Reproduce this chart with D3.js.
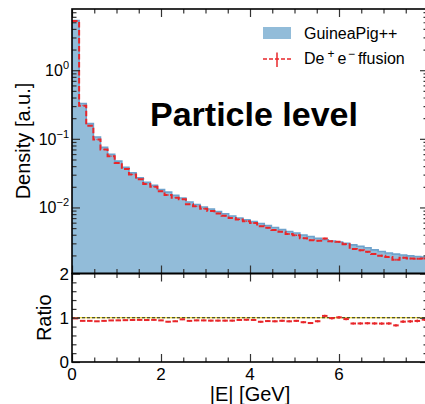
<!DOCTYPE html>
<html>
<head>
<meta charset="utf-8">
<script src="https://cdn.jsdelivr.net/npm/d3@7"></script>
<style>
  html, body { margin: 0; padding: 0; background: #fff; }
  svg { display: block; font-family: "Liberation Sans", Arial, Helvetica, sans-serif; }
</style>
</head>
<body>
<svg id="chart" width="425" height="404"></svg>
<script>
// Energy binning: 50 bins of 0.16 GeV between 0 and 8 GeV
const binEdgesRange = [0, 8];
const binCount = 50;

// GuineaPig++ density per bin
const guineaPig = [
  5.28, 0.327, 0.1667, 0.1062, 0.0751, 0.0594, 0.0474, 0.0384, 0.0319, 0.0270,
  0.0232, 0.0210, 0.0183, 0.0167, 0.0150, 0.0137, 0.0120, 0.01106, 0.01017, 0.00951,
  0.00875, 0.00809, 0.00751, 0.00703, 0.00661, 0.00625, 0.00584, 0.00546, 0.00511, 0.00477,
  0.00447, 0.00425, 0.00397, 0.00377, 0.00356, 0.00338, 0.00324, 0.00313, 0.00301, 0.00285,
  0.00272, 0.00258, 0.00241, 0.00228, 0.00217, 0.00209, 0.00203, 0.00197, 0.00193, 0.00189
];

// De+e-ffusion density per bin
const deeffusion = [
  5.20, 0.304, 0.155, 0.0977, 0.0698, 0.0558, 0.0446, 0.0363, 0.0303, 0.0257,
  0.0220, 0.0200, 0.0172, 0.0152, 0.0138, 0.0132, 0.01116, 0.01040, 0.00956, 0.00889,
  0.00818, 0.00756, 0.00702, 0.00668, 0.00631, 0.00594, 0.00531, 0.00505, 0.00470, 0.00444,
  0.00411, 0.00395, 0.00357, 0.00332, 0.00328, 0.00352, 0.00321, 0.00316, 0.00292, 0.00248,
  0.00237, 0.00226, 0.00210, 0.00198, 0.00189, 0.00173, 0.00185, 0.00181, 0.00179, 0.00181
];

// Relative statistical uncertainty of the De+e-ffusion sample per bin
const deeffusionRelErr = [
  0.003, 0.008, 0.010, 0.010, 0.012, 0.012, 0.013, 0.013, 0.014, 0.014,
  0.015, 0.015, 0.016, 0.016, 0.017, 0.017, 0.018, 0.018, 0.019, 0.019,
  0.020, 0.020, 0.021, 0.021, 0.022, 0.022, 0.023, 0.023, 0.024, 0.024,
  0.025, 0.025, 0.026, 0.026, 0.027, 0.027, 0.028, 0.028, 0.029, 0.029,
  0.030, 0.030, 0.031, 0.031, 0.032, 0.032, 0.033, 0.033, 0.034, 0.034
];

// Tick labels
const xTickLabels = [0, 2, 4, 6];
const densityDecades = [-2, -1, 0];
const ratioTickLabels = [0, 1, 2];

const legendLabels = ["GuineaPig++", "De", "+", "e", "\u2212", "ffusion"];
const titleText = "Particle level";

// ---- layout ----
const svg = d3.select("#chart");
const left = 72, right = 428;
const mainTop = 9, mainBottom = 273.5;
const ratioTop = 273.5, ratioBottom = 362;

const blueFill = "#92bcd9";
const blueEdge = "#6ea2cc";
const red = "#e8262a";

const binWidth = (binEdgesRange[1] - binEdgesRange[0]) / binCount;
const bins = d3.range(binCount).map(i => ({
  x0: binEdgesRange[0] + i * binWidth,
  x1: binEdgesRange[0] + (i + 1) * binWidth,
  gp: guineaPig[i],
  de: deeffusion[i],
  err: deeffusionRelErr[i]
}));

const x = d3.scaleLinear().domain(binEdgesRange).range([left, right]);
const y = d3.scaleLog().domain([1.09e-3, 7.8]).range([mainBottom, mainTop]);
const yr = d3.scaleLinear().domain([0, 2]).range([ratioBottom, ratioTop]);

// ---- main panel ----
svg.append("clipPath").attr("id", "mainClip")
  .append("rect").attr("x", left).attr("y", mainTop)
  .attr("width", right - left).attr("height", mainBottom - mainTop);

const main = svg.append("g").attr("clip-path", "url(#mainClip)");

// GuineaPig++ filled histogram
const stepPts = [[x(bins[0].x0), mainBottom]];
bins.forEach(b => { stepPts.push([x(b.x0), y(b.gp)]); stepPts.push([x(b.x1), y(b.gp)]); });
stepPts.push([x(bins[binCount - 1].x1), mainBottom]);
main.append("path")
  .attr("d", d3.line()(stepPts))
  .attr("fill", blueFill)
  .attr("stroke", blueEdge)
  .attr("stroke-width", 1.6)
  .attr("stroke-linejoin", "miter");

// De+e-ffusion dashed step line
const redPts = [];
bins.forEach(b => { redPts.push([x(b.x0), y(b.de)]); redPts.push([x(b.x1), y(b.de)]); });
main.append("path")
  .attr("d", d3.line()(redPts))
  .attr("fill", "none")
  .attr("stroke", red)
  .attr("stroke-width", 2)
  .attr("stroke-dasharray", "5.5,2.5");

// De+e-ffusion error bars
main.append("g").selectAll("line").data(bins).join("line")
  .attr("x1", b => x((b.x0 + b.x1) / 2))
  .attr("x2", b => x((b.x0 + b.x1) / 2))
  .attr("y1", b => y(b.de * (1 - b.err)))
  .attr("y2", b => y(b.de * (1 + b.err)))
  .attr("stroke", red)
  .attr("stroke-width", 1.5);

// ---- ratio panel ----
const ratio = svg.append("g");
ratio.append("line")
  .attr("x1", left).attr("x2", right).attr("y1", yr(1)).attr("y2", yr(1))
  .attr("stroke", "#e6d200").attr("stroke-width", 1.2);
ratio.append("line")
  .attr("x1", left).attr("x2", right).attr("y1", yr(1)).attr("y2", yr(1))
  .attr("stroke", "#222").attr("stroke-width", 1).attr("stroke-dasharray", "3,2");

const ratioBins = bins.map(b => ({ ...b, r: b.de / b.gp }));
ratio.append("g").selectAll("line").data(ratioBins).join("line")
  .attr("x1", b => x(b.x0) + 0.8)
  .attr("x2", b => x(b.x1) - 0.8)
  .attr("y1", b => yr(b.r))
  .attr("y2", b => yr(b.r))
  .attr("stroke", red).attr("stroke-width", 2);
ratio.append("g").selectAll("line").data(ratioBins).join("line")
  .attr("x1", b => x((b.x0 + b.x1) / 2))
  .attr("x2", b => x((b.x0 + b.x1) / 2))
  .attr("y1", b => yr(b.r * (1 - b.err)))
  .attr("y2", b => yr(b.r * (1 + b.err)))
  .attr("stroke", red).attr("stroke-width", 1.5);

// ---- axes ----
const tickColor = "#333";
function styleAxis(g) {
  g.select(".domain").remove();
  g.selectAll(".tick line").attr("stroke", tickColor).attr("stroke-width", 1.2);
  g.selectAll("text").remove();
}

const xMinor = d3.range(0, 8.001, 0.5).filter(v => v % 2 !== 0);
const xMajor = [0, 2, 4, 6, 8];

function xTicks(yPos, orientBottom) {
  const mk = orientBottom ? d3.axisBottom : d3.axisTop;
  svg.append("g").attr("transform", `translate(0,${yPos})`)
    .call(mk(x).tickValues(xMajor).tickSize(-8)).call(styleAxis);
  svg.append("g").attr("transform", `translate(0,${yPos})`)
    .call(mk(x).tickValues(xMinor).tickSize(-4.5)).call(styleAxis);
}
xTicks(mainTop, false);
xTicks(mainBottom, true);
xTicks(ratioTop, false);
xTicks(ratioBottom, true);

// log ticks for the density axis
const yMajor = d3.range(-3, 1).map(d => Math.pow(10, d)).filter(v => v >= 1.09e-3);
const yMinor = [];
d3.range(-3, 1).forEach(d => d3.range(2, 10).forEach(k => {
  const v = k * Math.pow(10, d);
  if (v >= 1.09e-3 && v <= 7.8) yMinor.push(v);
}));
[[left, d3.axisLeft], [right, d3.axisRight]].forEach(([xp, mk]) => {
  svg.append("g").attr("transform", `translate(${xp},0)`)
    .call(mk(y).tickValues(yMajor).tickSize(-8)).call(styleAxis);
  svg.append("g").attr("transform", `translate(${xp},0)`)
    .call(mk(y).tickValues(yMinor).tickSize(-4.5)).call(styleAxis);
});

// ratio axis ticks
const rMinor = d3.range(0, 2.001, 0.2).filter(v => Math.abs(v - Math.round(v)) > 1e-6);
[[left, d3.axisLeft], [right, d3.axisRight]].forEach(([xp, mk]) => {
  svg.append("g").attr("transform", `translate(${xp},0)`)
    .call(mk(yr).tickValues(ratioTickLabels).tickSize(-8)).call(styleAxis);
  svg.append("g").attr("transform", `translate(${xp},0)`)
    .call(mk(yr).tickValues(rMinor).tickSize(-4.5)).call(styleAxis);
});

// frames
[[mainTop, mainBottom], [ratioTop, ratioBottom]].forEach(([t, b]) => {
  svg.append("rect")
    .attr("x", left).attr("y", t)
    .attr("width", right - left).attr("height", b - t)
    .attr("fill", "none").attr("stroke", "#000").attr("stroke-width", 1.6);
});

// ---- tick labels ----
const labelFont = 17;
svg.append("g").selectAll("text").data(xTickLabels).join("text")
  .attr("x", d => x(d)).attr("y", 379.5)
  .attr("text-anchor", "middle")
  .attr("font-size", labelFont)
  .text(d => d);

svg.append("g").selectAll("text").data(ratioTickLabels).join("text")
  .attr("x", 69).attr("y", d => yr(d) + 6)
  .attr("text-anchor", "end")
  .attr("font-size", labelFont)
  .text(d => d);

const decLabels = svg.append("g").selectAll("text").data(densityDecades).join("text")
  .attr("x", 69).attr("y", d => y(Math.pow(10, d)) + 6)
  .attr("text-anchor", "end")
  .attr("font-size", 16);
decLabels.append("tspan").text("10");
decLabels.append("tspan")
  .attr("font-size", 11).attr("dy", -7)
  .text(d => d === 0 ? "0" : "\u2212" + Math.abs(d));

// ---- axis titles ----
svg.append("text")
  .attr("transform", `translate(30,141) rotate(-90)`)
  .attr("text-anchor", "middle").attr("font-size", 20)
  .text("Density [a.u.]");
svg.append("text")
  .attr("transform", `translate(51,${(ratioTop + ratioBottom) / 2}) rotate(-90)`)
  .attr("text-anchor", "middle").attr("font-size", 20)
  .text("Ratio");
svg.append("text")
  .attr("x", (left + right) / 2).attr("y", 401)
  .attr("text-anchor", "middle").attr("font-size", 20)
  .text("|E| [GeV]");

// ---- title ----
svg.append("text")
  .attr("x", 150).attr("y", 126)
  .attr("font-size", 34).attr("font-weight", "bold")
  .text(titleText);

// ---- legend ----
const lg = svg.append("g");
lg.append("rect").attr("x", 263).attr("y", 27).attr("width", 28).attr("height", 12)
  .attr("fill", blueFill);
lg.append("text").attr("x", 304).attr("y", 39).attr("font-size", 16).text(legendLabels[0]);

lg.append("line").attr("x1", 263).attr("x2", 291).attr("y1", 59).attr("y2", 59)
  .attr("stroke", red).attr("stroke-width", 1.5).attr("stroke-dasharray", "4,2");
lg.append("line").attr("x1", 277).attr("x2", 277).attr("y1", 52.5).attr("y2", 67)
  .attr("stroke", red).attr("stroke-width", 1.5);
const lt = lg.append("text").attr("x", 304).attr("y", 64).attr("font-size", 16);
lt.append("tspan").text(legendLabels[1]);
lt.append("tspan").attr("font-size", 12).attr("dy", -6).attr("dx", 3).text(legendLabels[2]);
lt.append("tspan").attr("dy", 6).attr("dx", 3).text(legendLabels[3]);
lt.append("tspan").attr("font-size", 12).attr("dy", -6).attr("dx", 1.5).text(legendLabels[4]);
lt.append("tspan").attr("dy", 6).attr("dx", 3).text(legendLabels[5]);
</script>
</body>
</html>
